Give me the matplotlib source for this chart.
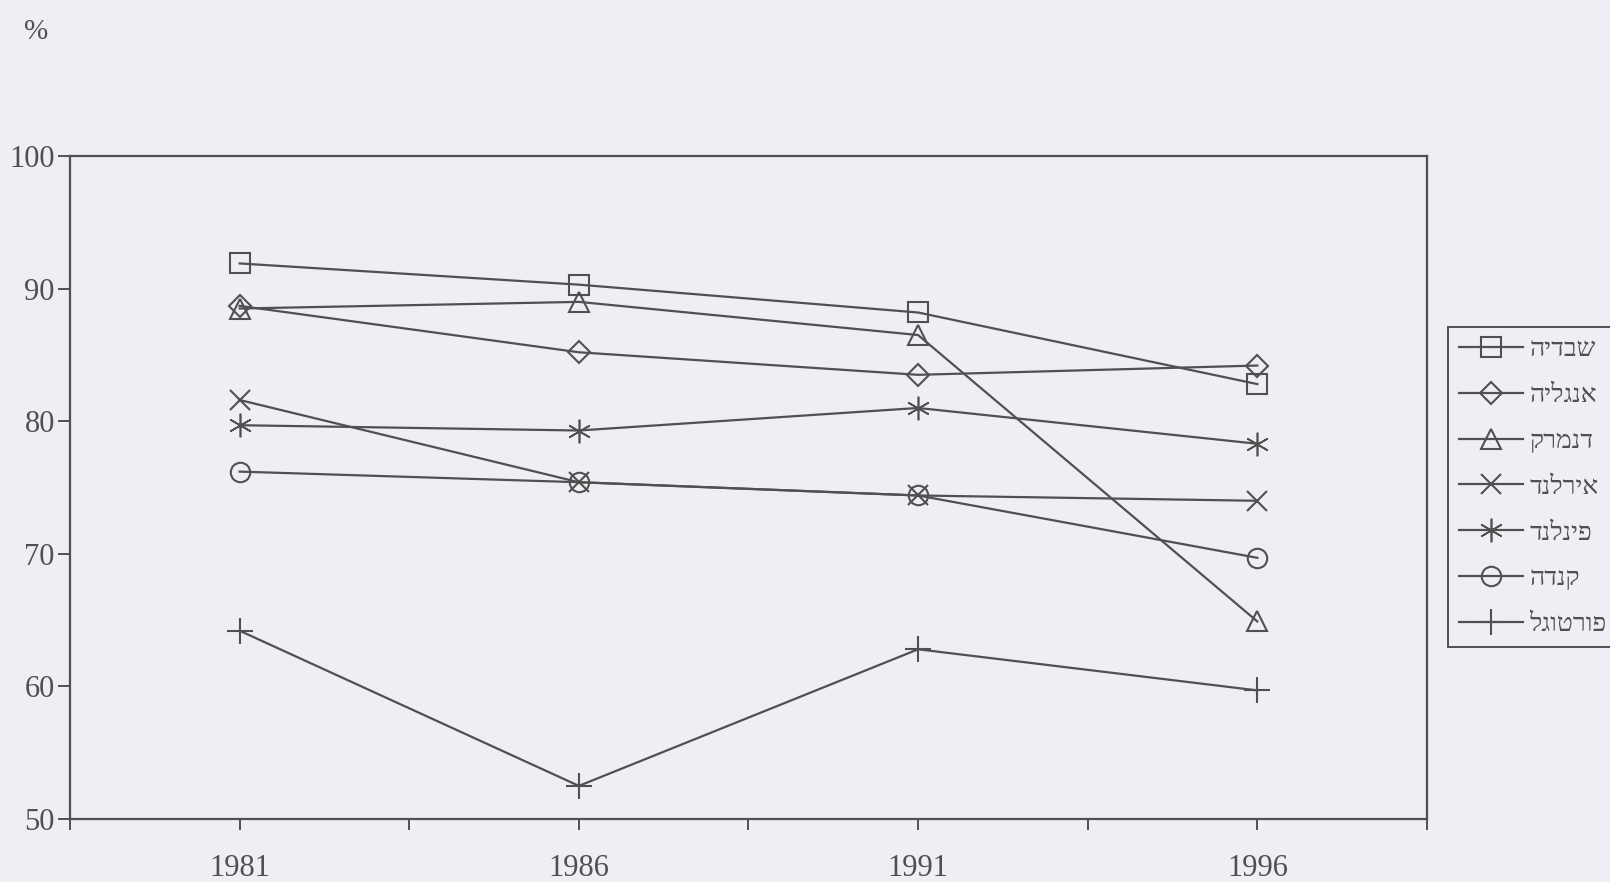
import matplotlib
matplotlib.use("Agg")
import matplotlib.pyplot as plt
from matplotlib.ticker import FixedLocator, NullFormatter

plt.rcParams['font.family'] = ['Liberation Serif', 'DejaVu Serif', 'DejaVu Sans']

years = [1981, 1986, 1991, 1996]
countries = ["שבדיה", "אנגליה", "דנמרק", "אירלנד", "פינלנד", "קנדה", "פורטוגל"]
sweden = [91.9, 90.3, 88.2, 82.8]
england = [88.7, 85.2, 83.5, 84.2]
denmark = [88.5, 89.0, 86.5, 64.9]
ireland = [81.6, 75.4, 74.4, 74.0]
finland = [79.7, 79.3, 81.0, 78.3]
canada = [76.2, 75.4, 74.4, 69.7]
portugal = [64.2, 52.5, 62.8, 59.7]
series = [sweden, england, denmark, ireland, finland, canada, portugal]
markers = ['s', 'D', '^', 'x', (6, 2, 0), 'o', '+']
msizes = [14, 11.5, 14, 15, 17, 14, 19]
mews = [1.5, 1.5, 1.5, 1.5, 1.2, 1.5, 1.5]
yticks = [50, 60, 70, 80, 90, 100]

bg = '#edeff4'
ink = '#505050'

fig = plt.figure(figsize=(16.1, 8.82), dpi=100, facecolor=bg)
ax = fig.add_axes([0.0435, 0.0714, 0.8428, 0.7517], facecolor=bg)

handles = []
for name, vals, m, ms, mew in zip(countries, series, markers, msizes, mews):
    h, = ax.plot(years, vals, color=ink, lw=1.6, marker=m, markersize=ms,
                 markerfacecolor='none', markeredgecolor=ink, markeredgewidth=mew,
                 label=name[::-1])
    handles.append(h)

ax.set_xlim(1978.5, 1998.5)
ax.set_ylim(50, 100)
ax.xaxis.set_major_locator(FixedLocator(years))
ax.xaxis.set_minor_locator(FixedLocator([1978.5, 1983.5, 1988.5, 1993.5, 1998.5]))
ax.xaxis.set_minor_formatter(NullFormatter())
ax.set_yticks(yticks)
ax.tick_params(axis='x', which='both', direction='out', length=8, width=1.4,
               colors=ink, labelsize=22, pad=17)
ax.tick_params(axis='y', direction='out', length=9, width=1.4, colors=ink,
               labelsize=22, pad=2)
for s in ax.spines.values():
    s.set_color(ink)
    s.set_linewidth(1.6)

fig.text(0.015, 0.978, '%', fontsize=21, color=ink, va='top', ha='left')

leg = fig.legend(handles=handles, loc='upper left', bbox_to_anchor=(0.8994, 0.6293),
                 bbox_transform=fig.transFigure, frameon=True, fancybox=False,
                 fontsize=19, handlelength=2.45, labelspacing=0.85,
                 borderpad=0.4, borderaxespad=0, handletextpad=0.23,
                 labelcolor=ink)
leg.get_frame().set_edgecolor(ink)
leg.get_frame().set_linewidth(1.4)
leg.get_frame().set_facecolor(bg)
leg.get_frame().set_alpha(1)

fig.savefig('out.png', dpi=100, facecolor=bg)
